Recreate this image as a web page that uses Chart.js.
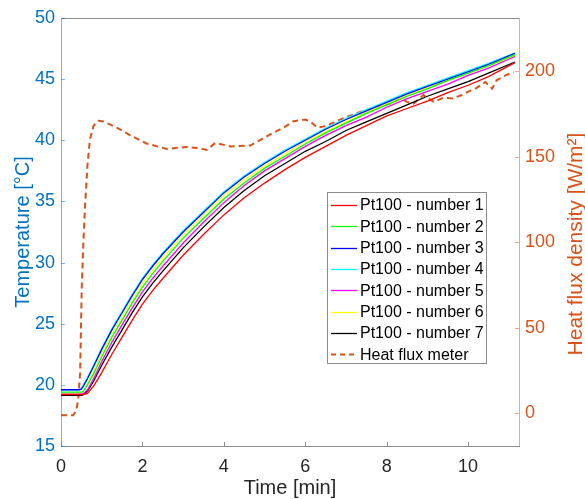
<!DOCTYPE html>
<html><head><meta charset="utf-8">
<script src="https://cdn.jsdelivr.net/npm/chart.js@4"></script>
<style>html,body{margin:0;padding:0;background:#fff}canvas{display:block}</style>
</head><body>
<canvas id="c" width="585" height="499"></canvas>
<script>
// ---- data ----
const timeMin = [0, 0.3, 0.45, 0.5, 0.55, 0.65, 0.8, 1.0, 1.25, 1.5, 1.75, 2, 2.25, 2.5, 3, 3.5, 4, 4.5, 5, 5.5, 6, 6.5, 7, 7.5, 8, 8.5, 9, 9.5, 10, 10.5, 11.15];
const pt100_1 = [19.2,19.2,19.2,19.2,19.2,19.3,19.9,21.0,22.5,23.9,25.3,26.6,27.7,28.7,30.6,32.3,33.9,35.3,36.5,37.6,38.6,39.5,40.4,41.2,42.0,42.6,43.2,43.9,44.5,45.2,46.35];
const pt100_2 = [19.4,19.4,19.4,19.4,19.5,20.0,20.9,22.3,23.9,25.3,26.7,28.0,29.1,30.1,32.0,33.6,35.2,36.5,37.7,38.7,39.7,40.6,41.4,42.2,42.9,43.6,44.2,44.9,45.5,46.1,47.0];
const pt100_3 = [19.6,19.6,19.6,19.65,19.9,20.5,21.5,22.9,24.5,25.9,27.3,28.6,29.7,30.7,32.5,34.1,35.7,37.0,38.1,39.1,40.0,40.9,41.7,42.4,43.1,43.8,44.4,45.0,45.6,46.2,47.1];
const pt100_4 = [19.6,19.6,19.6,19.7,20.0,20.6,21.6,23.0,24.6,26.0,27.4,28.7,29.8,30.8,32.6,34.2,35.8,37.1,38.2,39.2,40.1,41.0,41.8,42.5,43.2,43.9,44.5,45.1,45.7,46.3,47.15];
const pt100_5 = [19.25,19.25,19.25,19.25,19.3,19.6,20.5,21.9,23.5,24.9,26.3,27.6,28.7,29.7,31.6,33.3,34.9,36.3,37.5,38.5,39.5,40.4,41.2,41.9,42.7,43.4,44.0,44.6,45.3,45.9,46.85];
const pt100_6 = [19.3,19.3,19.3,19.35,19.5,20.1,21.1,22.6,24.2,25.6,27.0,28.3,29.4,30.4,32.3,33.9,35.5,36.8,37.9,38.9,39.9,40.7,41.5,42.3,43.0,43.7,44.3,44.9,45.5,46.1,46.95];
const pt100_7 = [19.15,19.15,19.15,19.15,19.2,19.5,20.3,21.6,23.1,24.5,25.9,27.2,28.3,29.3,31.2,32.9,34.5,35.9,37.1,38.1,39.1,39.9,40.8,41.5,42.2,42.9,43.6,44.2,44.8,45.5,46.4];

const fluxTimeMin = [0, 0.3, 0.38, 0.43, 0.47, 0.51, 0.55, 0.59, 0.65, 0.71, 0.8, 0.92, 1.05, 1.37, 1.7, 2.1, 2.6, 3.09, 3.35, 3.58, 3.79, 4.16, 4.65, 5.14, 5.47, 5.71, 6.0, 6.15, 6.29, 6.53, 6.78, 7.1, 7.43, 7.76, 8.09, 8.34, 8.5, 8.66, 8.9, 9.16, 9.4, 9.6, 9.85, 10.0, 10.2, 10.42, 10.59, 10.7, 10.92, 11.12];
const fluxDensity = [-1, -1, 2, 10, 24, 74, 100, 121, 145, 160, 168, 171, 170.5, 167, 162.5, 157.7, 154.5, 155.7, 155, 154, 158, 156, 156.5, 163, 167, 170.7, 171.7, 170, 167, 168, 171, 174, 176.7, 179, 181, 184, 182, 181, 186, 182, 184.5, 184, 186, 188, 190, 193.6, 189.7, 194.6, 197.5, 199.4];

const seriesLabels = ['Pt100 - number 1','Pt100 - number 2','Pt100 - number 3','Pt100 - number 4','Pt100 - number 5','Pt100 - number 6','Pt100 - number 7','Heat flux meter'];
const xTickValues = [0, 2, 4, 6, 8, 10];
const tempTickValues = [15, 20, 25, 30, 35, 40, 45, 50];
const fluxTickValues = [0, 50, 100, 150, 200];

// ---- styling ----
const FONT = "'Liberation Sans', Arial, Helvetica, sans-serif";
const BLUE = '#0072BD', ORANGE = '#D95319', DARK = '#262626';
const BLUE_LINE = 'rgba(0,114,189,0.5)', ORANGE_LINE = 'rgba(217,83,25,0.5)', GREY_LINE = '#8c8c8c';
const sensorColors = ['#FF0000','#00FF00','#0000FF','#00FFFF','#FF00FF','#FFFF00','#000000'];
const sensors = [pt100_1, pt100_2, pt100_3, pt100_4, pt100_5, pt100_6, pt100_7];

const toXY = (xs, ys) => xs.map((x, i) => ({x, y: ys[i]}));

const datasets = sensors.map((s, i) => ({
  label: seriesLabels[i], data: toXY(timeMin, s), yAxisID: 'y',
  borderColor: sensorColors[i], borderWidth: 1.3, pointRadius: 0, tension: 0, fill: false
}));
datasets.push({
  label: seriesLabels[7], data: toXY(fluxTimeMin, fluxDensity), yAxisID: 'y1',
  borderColor: ORANGE, borderWidth: 2, borderDash: [6, 4], pointRadius: 0, tension: 0, fill: false
});

const setTicks = vals => scale => { scale.ticks = vals.map(v => ({value: v})); };

const decor = {
  id: 'decor',
  afterDraw(chart) {
    const ctx = chart.ctx, a = chart.chartArea;
    const sx = chart.scales.x, sl = chart.scales.y, sr = chart.scales.y1;
    ctx.save();
    ctx.lineWidth = 1;
    // top box line
    ctx.strokeStyle = GREY_LINE;
    ctx.beginPath(); ctx.moveTo(a.left, a.top + 0.5); ctx.lineTo(a.right, a.top + 0.5); ctx.stroke();
    // inward x ticks
    ctx.beginPath();
    sx.ticks.forEach(t => { const p = Math.round(sx.getPixelForValue(t.value)) + 0.5; ctx.moveTo(p, a.bottom); ctx.lineTo(p, a.bottom - 4); });
    ctx.stroke();
    // left ticks
    ctx.strokeStyle = BLUE_LINE; ctx.beginPath();
    sl.ticks.forEach(t => { const p = Math.round(sl.getPixelForValue(t.value)) + 0.5; ctx.moveTo(a.left, p); ctx.lineTo(a.left + 4, p); });
    ctx.stroke();
    // right ticks
    ctx.strokeStyle = ORANGE_LINE; ctx.beginPath();
    sr.ticks.forEach(t => { const p = Math.round(sr.getPixelForValue(t.value)) + 0.5; ctx.moveTo(a.right, p); ctx.lineTo(a.right - 4, p); });
    ctx.stroke();
    // right axis title (reads bottom to top)
    ctx.save();
    ctx.translate(576, 244); ctx.rotate(-Math.PI / 2);
    ctx.fillStyle = ORANGE; ctx.font = '21px ' + FONT; ctx.textAlign = 'center'; ctx.textBaseline = 'middle';
    ctx.fillText('Heat flux density [W/m\u00B2]', 0, 0);
    ctx.restore();
    // legend box
    const lx = 327.5, ly = 192.5, lw = 159, lh = 171, rowH = 21.3, firstY = 205;
    ctx.fillStyle = '#ffffff'; ctx.fillRect(lx, ly, lw, lh);
    ctx.strokeStyle = GREY_LINE; ctx.lineWidth = 1; ctx.strokeRect(lx, ly, lw, lh);
    ctx.font = '16px ' + FONT; ctx.textAlign = 'left'; ctx.textBaseline = 'middle';
    chart.data.datasets.forEach((ds, i) => {
      const y = firstY + i * rowH;
      ctx.save();
      ctx.strokeStyle = ds.borderColor;
      ctx.lineWidth = ds.borderDash ? 2 : 1.3;
      ctx.setLineDash(ds.borderDash ? [5, 4] : []);
      ctx.beginPath(); ctx.moveTo(331, Math.round(y) + 0.5); ctx.lineTo(357, Math.round(y) + 0.5); ctx.stroke();
      ctx.restore();
      ctx.fillStyle = '#000000';
      ctx.fillText(ds.label, 360, y + 1);
    });
    ctx.restore();
  }
};

new Chart(document.getElementById('c'), {
  type: 'line',
  data: { datasets },
  plugins: [decor],
  options: {
    responsive: false, animation: false, devicePixelRatio: 1,
    layout: { padding: { top: 18, left: 0, right: 0, bottom: 0 } },
    plugins: { legend: { display: false }, tooltip: { enabled: false } },
    scales: {
      x: {
        type: 'linear', min: 0, max: 11.25,
        afterBuildTicks: setTicks(xTickValues),
        afterFit: s => { s.height = 53; },
        grid: { drawOnChartArea: false, drawTicks: false },
        border: { color: GREY_LINE, width: 1 },
        ticks: { color: DARK, padding: 10, maxRotation: 0, font: { family: FONT, size: 18 } },
        title: { display: true, text: 'Time [min]', color: DARK, font: { family: FONT, size: 20 }, padding: { top: 0, bottom: -1 } }
      },
      y: {
        type: 'linear', position: 'left', min: 15, max: 50,
        afterBuildTicks: setTicks(tempTickValues),
        afterFit: s => { s.width = 61; },
        grid: { drawOnChartArea: false, drawTicks: false },
        border: { color: BLUE_LINE, width: 1 },
        ticks: { color: BLUE, padding: 6, font: { family: FONT, size: 18 } },
        title: { display: true, text: 'Temperature [°C]', color: BLUE, font: { family: FONT, size: 20 }, padding: { top: 11, bottom: 0 } }
      },
      y1: {
        type: 'linear', position: 'right', min: -19, max: 231,
        afterBuildTicks: setTicks(fluxTickValues),
        afterFit: s => { s.width = 66; },
        grid: { drawOnChartArea: false, drawTicks: false },
        border: { color: ORANGE_LINE, width: 1 },
        ticks: { color: ORANGE, padding: 6, font: { family: FONT, size: 18 } },
        title: { display: false }
      }
    }
  }
});
</script>
</body></html>
